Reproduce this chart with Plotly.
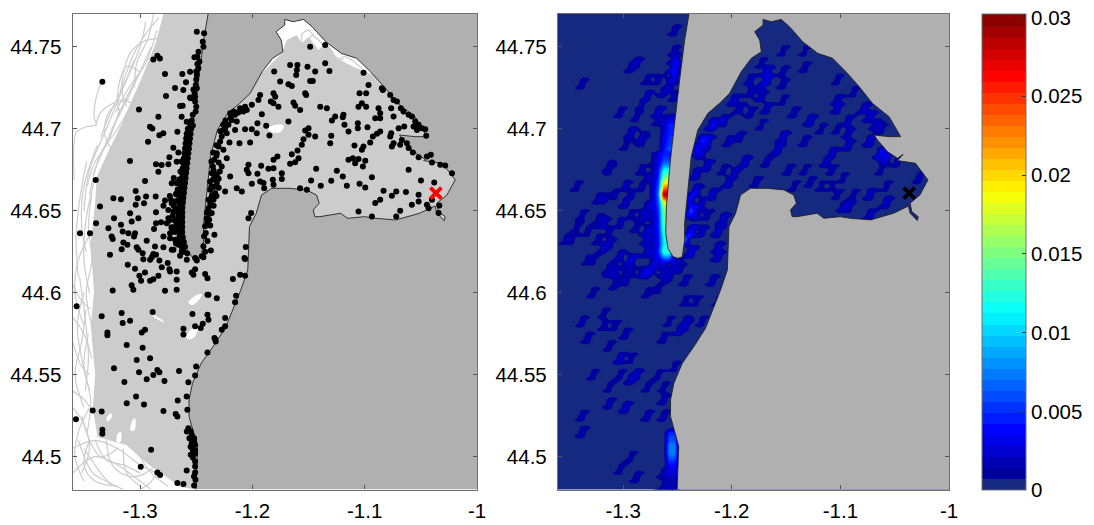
import numpy as np
import plotly.graph_objects as go

W, H = 1094, 525

def fx(p):
    return p / W

def fy(p):
    return 1 - p / H

# ---- coastline (lon, lat) from the spit's top edge round the bay to the south edge
coast = [(-1.2394,44.77),(-1.2434,44.7541),(-1.2480,44.7298),(-1.2526,44.7054),(-1.2565,44.681),(-1.2602,44.6525),
(-1.2608,44.6363),(-1.2587,44.6271),(-1.2541,44.622),(-1.2495,44.621),(-1.2455,44.622),(-1.2434,44.6322),(-1.2434,44.6424),
(-1.2413,44.6566),(-1.2389,44.6708),(-1.2373,44.683),(-1.2312,44.6993),(-1.2220,44.7094),(-1.2113,44.7155),(-1.2020,44.7216),
(-1.1913,44.7348),(-1.1820,44.743),(-1.1728,44.747),(-1.1743,44.7541),(-1.1789,44.7592),(-1.1712,44.7633),(-1.1712,44.7667),
(-1.1636,44.7653),(-1.1545,44.7667),(-1.1469,44.7623),(-1.1347,44.7531),(-1.1209,44.746),(-1.1072,44.743),(-1.0949,44.7348),
(-1.0827,44.7257),(-1.0705,44.7155),(-1.0552,44.7074),(-1.0460,44.6972),(-1.0445,44.6952),(-1.0552,44.6952),(-1.0690,44.6962),
(-1.0659,44.6932),(-1.0567,44.6861),(-1.0475,44.682),(-1.0423,44.6844),(-1.0475,44.6806),(-1.0308,44.6789),(-1.0194,44.6688),
(-1.0268,44.6596),(-1.0358,44.6546),(-1.0343,44.6495),(-1.0283,44.6464),(-1.0292,44.644),(-1.0358,44.6485),(-1.0373,44.6529),
(-1.0510,44.6485),(-1.0722,44.6444),(-1.0907,44.6454),(-1.0999,44.6464),(-1.1153,44.6454),(-1.1214,44.6485),(-1.1398,44.6464),
(-1.1444,44.6464),(-1.1459,44.6505),(-1.1405,44.6546),(-1.1429,44.6596),(-1.1520,44.6627),(-1.1673,44.6637),(-1.1827,44.6637),
(-1.1919,44.6596),(-1.1965,44.6485),(-1.2026,44.6403),(-1.2041,44.622),(-1.2041,44.6139),(-1.2103,44.6017),(-1.2165,44.5915),
(-1.2242,44.5783),(-1.2349,44.5672),(-1.2456,44.557),(-1.2533,44.5448),(-1.2564,44.5346),(-1.2564,44.5245),(-1.2527,44.5153),
(-1.2488,44.5062),(-1.2494,44.496),(-1.2503,44.48)]
land_corners = [(-1.0,44.48),(-1.0,44.77)]

# ---- area completely covered by the particle tracks
covered = [(-1.2793,44.77),(-1.2394,44.77),(-1.2,44.74),(-1.1902,44.7348),(-1.1813,44.7409),(-1.1739,44.746),(-1.1694,44.7541),
(-1.1605,44.7572),(-1.1561,44.7521),(-1.1501,44.7562),(-1.1412,44.748),(-1.1338,44.7521),(-1.1249,44.743),(-1.1101,44.7379),
(-1.0923,44.7328),(-1.08,44.73),(-1.01,44.68),(-1.01,44.64),(-1.03,44.63),(-1.2,44.62),(-1.2,44.5),(-1.25,44.48),(-1.264,44.4815),
(-1.273,44.486),(-1.294,44.496),(-1.312,44.507),(-1.338,44.512),(-1.342,44.53),(-1.340,44.55),(-1.344,44.58),(-1.341,44.60),(-1.344,44.63),(-1.340,44.655),
(-1.3385,44.6708),(-1.3277,44.687),(-1.3159,44.7035),(-1.3099,44.7135),(-1.2981,44.7318),(-1.2862,44.752)]

uncovered_spots = [
 [(-1.186,44.7005),(-1.179,44.7025),(-1.172,44.702),(-1.175,44.698),(-1.183,44.698)],
 [(-1.257,44.5940),(-1.250,44.5985),(-1.245,44.599),(-1.249,44.5945),(-1.254,44.5925)],
 [(-1.259,44.5730),(-1.255,44.5775),(-1.249,44.5785),(-1.251,44.5735),(-1.256,44.5715)],
 [(-1.291,44.5875),(-1.284,44.585),(-1.278,44.582),(-1.284,44.5835)],
 [(-1.3300,44.5235),(-1.3260,44.5265),(-1.3250,44.5245),(-1.3285,44.5215)],
 [(-1.3070,44.5220),(-1.3045,44.5235),(-1.3050,44.5160),(-1.3085,44.5160)],
 [(-1.3200,44.5140),(-1.3170,44.5150),(-1.3175,44.5090),(-1.3205,44.5090)],
]

# ---- single tracks outside the covered area
tracks = [
 [(-1.3342,44.7287),(-1.3372,44.7236),(-1.3401,44.7155),(-1.341,44.7074),(-1.3392,44.7023),(-1.3476,44.7013),(-1.3565,44.6982),(-1.3588,44.6911),(-1.3588,44.6687)],
 [(-1.2837,44.7551),(-1.2971,44.7531),(-1.309,44.746),(-1.3149,44.7338),(-1.3164,44.7236),(-1.3119,44.7135)],
 [(-1.3392,44.7023),(-1.3357,44.7094),(-1.3268,44.7145),(-1.3149,44.7175),(-1.303,44.7135)],
 [(-1.30,44.735),(-1.315,44.715),(-1.328,44.695),(-1.342,44.672)],
 [(-1.305,44.742),(-1.318,44.72),(-1.33,44.70),(-1.345,44.675),(-1.35,44.65)],
 [(-1.29,44.75),(-1.31,44.72),(-1.325,44.70)],
 [(-1.285,44.76),(-1.295,44.74),(-1.31,44.725),(-1.322,44.71)],
 [(-1.295,44.765),(-1.300,44.75),(-1.312,44.73),(-1.325,44.712),(-1.335,44.695)],
 [(-1.318,44.712),(-1.330,44.69),(-1.34,44.68),(-1.347,44.665)],
 [(-1.3,44.725),(-1.32,44.70),(-1.335,44.685),(-1.345,44.66)],
 [(-1.288,44.77),(-1.293,44.755),(-1.303,44.74),(-1.305,44.725)],
 [(-1.283,44.768),(-1.296,44.757),(-1.306,44.745),(-1.318,44.722)],
 [(-1.301,44.735),(-1.312,44.738),(-1.320,44.722),(-1.318,44.708)],
 [(-1.31,44.718),(-1.326,44.712),(-1.332,44.698),(-1.326,44.688)],
 [(-1.338,44.69),(-1.35,44.665),(-1.352,44.64),(-1.348,44.625)],
 [(-1.3476,44.68),(-1.353,44.66),(-1.357,44.635),(-1.355,44.61)],
 [(-1.34,44.67),(-1.348,44.645),(-1.35,44.62),(-1.345,44.60)],
 [(-1.343,44.66),(-1.346,44.64),(-1.343,44.62),(-1.348,44.60),(-1.343,44.58)],
 [(-1.345,44.635),(-1.355,44.62),(-1.358,44.60),(-1.35,44.58)],
 [(-1.35,44.60),(-1.356,44.58),(-1.352,44.56),(-1.345,44.54)],
 [(-1.348,44.59),(-1.352,44.57),(-1.358,44.55),(-1.35,44.53)],
 [(-1.354,44.61),(-1.349,44.585),(-1.346,44.56),(-1.349,44.54)],
 [(-1.346,44.575),(-1.35,44.555),(-1.344,44.535),(-1.347,44.515)],
 [(-1.36,44.57),(-1.352,44.555),(-1.345,44.55)],
 [(-1.36,44.585),(-1.35,44.575),(-1.343,44.56)],
 [(-1.36,44.605),(-1.352,44.595),(-1.344,44.59)],
 [(-1.36,44.54),(-1.35,44.535),(-1.34,44.525)],
 [(-1.36,44.53),(-1.35,44.52),(-1.345,44.505),(-1.352,44.49)],
 [(-1.345,44.53),(-1.355,44.515),(-1.358,44.50),(-1.35,44.485)],
 [(-1.352,44.525),(-1.345,44.51),(-1.335,44.50),(-1.32,44.505)],
 [(-1.36,44.505),(-1.34,44.51),(-1.32,44.505),(-1.30,44.495),(-1.285,44.49)],
 [(-1.345,44.51),(-1.35,44.495),(-1.34,44.485),(-1.32,44.482)],
 [(-1.33,44.51),(-1.325,44.495),(-1.31,44.488),(-1.295,44.49),(-1.28,44.50)],
 [(-1.315,44.505),(-1.312,44.49),(-1.30,44.482)],
 [(-1.36,44.49),(-1.34,44.50),(-1.32,44.495),(-1.30,44.485),(-1.29,44.48)],
 [(-1.35,44.505),(-1.335,44.49),(-1.325,44.482)],
 [(-1.30,44.50),(-1.29,44.49),(-1.275,44.482)],
 [(-1.28,44.498),(-1.29,44.485),(-1.30,44.48)],
 [(-1.34,44.51),(-1.33,44.498),(-1.315,44.495),(-1.30,44.49)],
 [(-1.355,44.51),(-1.342,44.49),(-1.33,44.485),(-1.315,44.48)],
 # wisps at the head of the bay
 [(-1.1560,44.752),(-1.1555,44.758),(-1.150,44.76),(-1.145,44.756)],
 [(-1.1500,44.752),(-1.147,44.757),(-1.141,44.754),(-1.136,44.75)],
 [(-1.1360,44.748),(-1.131,44.749),(-1.126,44.744),(-1.118,44.742)],
 [(-1.1250,44.741),(-1.118,44.744),(-1.108,44.740),(-1.100,44.735)],
]

# ---- final particle positions: bay interior
dots_bay = [(-1.1486,44.7501),(-1.1352,44.7511),(-1.1352,44.7399),(-1.1314,44.7353),(-1.1664,44.7389),(-1.1599,44.7389),(-1.1604,44.7359),
(-1.1610,44.7328),(-1.1509,44.7379),(-1.1441,44.7349),(-1.1806,44.7349),(-1.1753,44.7288),(-1.1486,44.7292),(-1.1462,44.7292),(-1.1679,44.7271),
(-1.1649,44.7261),(-1.1010,44.7342),(-1.0966,44.7267),(-1.1046,44.7217),(-1.0987,44.7217),(-1.0847,44.7247),(-1.0838,44.7237),(-1.0773,44.7206),
(-1.0743,44.7176),(-1.0713,44.7166),(-1.1931,44.7206),(-1.1946,44.7176),(-1.1812,44.7217),(-1.1797,44.7196),(-1.1530,44.7217),(-1.1521,44.7206),
(-1.1836,44.7166),(-1.1812,44.7156),(-1.1768,44.7135),(-1.1634,44.7160),(-1.1619,44.7140),(-1.1575,44.7115),(-1.1396,44.7135),(-1.1337,44.7125),
(-1.1025,44.7156),(-1.1055,44.7135),(-1.0987,44.7135),(-1.0877,44.7125),(-1.0862,44.7095),(-1.0764,44.7125),(-1.0678,44.7125),(-1.0654,44.7105),
(-1.0743,44.7075),(-1.0906,44.7064),(-1.0862,44.7064),(-1.0609,44.7085),(-1.0580,44.7075),(-1.0550,44.7044),(-1.0520,44.7024),(-1.0565,44.7014),
(-1.0491,44.7003),(-1.0461,44.6997),(-1.0535,44.6993),(-1.0648,44.7014),(-1.0698,44.7003),(-1.0452,44.6957),(-1.1189,44.7085),(-1.1195,44.7071),
(-1.1263,44.7075),(-1.1292,44.7050),(-1.1180,44.7024),(-1.1061,44.7034),(-1.1061,44.7003),(-1.1144,44.6983),(-1.0975,44.7010),(-1.0862,44.6983),
(-1.0891,44.6969),(-1.0927,44.6953),(-1.0764,44.6973),(-1.0773,44.6953),(-1.1500,44.7003),(-1.1530,44.6989),(-1.1500,44.6963),(-1.1441,44.6953),
(-1.1298,44.6957),(-1.1307,44.6912),(-1.1679,44.7044),(-1.1916,44.7089),(-1.1955,44.7034),(-1.1877,44.7018),(-1.1961,44.6973),(-1.1848,44.6959),
(-1.2005,44.6997),(-1.2065,44.6997),(-1.2154,44.6993),(-1.2020,44.6916),(-1.2115,44.6912),(-1.2204,44.6916),(-1.1545,44.6936),(-1.1560,44.6902),
(-1.1598,44.6867),(-1.1649,44.6845),(-1.1589,44.6821),(-1.1619,44.6796),(-1.1664,44.6786),(-1.1777,44.6831),(-1.1812,44.6811),(-1.1812,44.6760),
(-1.1857,44.6756),(-1.1922,44.6774),(-1.2035,44.6780),(-1.2050,44.6750),(-1.2035,44.6729),(-1.1955,44.6725),(-1.1738,44.6729),(-1.1738,44.6693),
(-1.1818,44.6689),(-1.1931,44.6679),(-1.2005,44.6664),(-1.1901,44.6669),(-1.1895,44.6638),(-1.1812,44.6658),(-1.1432,44.6756),(-1.1248,44.6744),
(-1.1195,44.6709),(-1.1477,44.6685),(-1.1391,44.6652),(-1.1298,44.6683),(-1.1159,44.6652),(-1.1046,44.6664),(-1.0995,44.6642),(-1.0936,44.6705),
(-1.1091,44.6898),(-1.1011,44.6892),(-1.1025,44.6872),(-1.0951,44.6916),(-1.1144,44.6811),(-1.1105,44.6821),(-1.1055,44.6815),(-1.1085,44.6790),
(-1.0995,44.6805),(-1.1016,44.6770),(-1.0758,44.6892),(-1.0743,44.6912),(-1.0684,44.6902),(-1.0669,44.6932),(-1.0624,44.6912),(-1.0609,44.6882),
(-1.0571,44.6855),(-1.0520,44.6827),(-1.0446,44.6831),(-1.0411,44.6841),(-1.0401,44.6794),(-1.0327,44.6780),(-1.0283,44.6776),(-1.0223,44.6729),
(-1.0609,44.6750),(-1.0499,44.6685),(-1.0381,44.6673),(-1.0832,44.6622),(-1.0719,44.6618),(-1.0758,44.6591),(-1.0633,44.6614),(-1.0520,44.6597),
(-1.0520,44.6557),(-1.0862,44.6567),(-1.0906,44.6547),(-1.0580,44.6536),(-1.0446,44.6536),(-1.0431,44.6516),(-1.0401,44.6567),(-1.0336,44.6532),
(-1.0342,44.6486),(-1.0684,44.6500),(-1.0719,44.6465),(-1.1055,44.6496),(-1.0936,44.6465),(-1.1575,44.6638),(-1.1515,44.6628),(-1.2011,44.6486),
(-1.2035,44.6455),(-1.2059,44.6279),(-1.2071,44.6212),(-1.2338,44.6354),(-1.2370,44.6258)]

# ---- bay west shore and east side of the spit
dots_shore = [(-1.2198,44.7095),(-1.2154,44.7085),(-1.2109,44.7125),(-1.2065,44.7135),(-1.2005,44.7146),(-1.2050,44.7115),(-1.2184,44.7054),
(-1.2139,44.7044),(-1.2213,44.7024),(-1.2243,44.7003),(-1.2228,44.6973),(-1.2273,44.6953),(-1.2287,44.6922),(-1.2302,44.6892),(-1.2258,44.6872),
(-1.2317,44.6851),(-1.2228,44.6821),(-1.2341,44.6811),(-1.2352,44.6770),(-1.2273,44.6770),(-1.2362,44.6729),(-1.2317,44.6719),(-1.2198,44.6709),
(-1.2377,44.6679),(-1.2317,44.6669),(-1.2243,44.6618),(-1.2139,44.6638),(-1.2094,44.6618),(-1.2377,44.6628),(-1.2332,44.6608),(-1.2391,44.6567),
(-1.2346,44.6567),(-1.2391,44.6516),(-1.2362,44.6486),(-1.2406,44.6455),(-1.2421,44.6405),(-1.2430,44.6344),(-1.2436,44.6283),(-1.2451,44.6222),
(-1.2510,44.6212),(-1.2337,44.6705),(-1.2345,44.6645),(-1.2360,44.6595),(-1.2375,44.6540),(-1.2385,44.6480),(-1.2402,44.6430),(-1.2375,44.6410),
(-1.2350,44.6690),(-1.2300,44.6795),(-1.2320,44.6900),(-1.2265,44.6990),(-1.2240,44.7050),(-1.2285,44.6985),(-1.2260,44.7025),(-1.2195,44.7065),
(-1.2165,44.7105),(-1.2125,44.7100),(-1.2080,44.7105),(-1.2350,44.6855),(-1.2365,44.6800),(-1.2320,44.6835),(-1.2345,44.6745),(-1.2290,44.6740),
(-1.2300,44.6640),(-1.2320,44.6590),(-1.2300,44.6695),(-1.2365,44.6650),(-1.2345,44.6530),(-1.2370,44.6575),(-1.2415,44.6365),(-1.2400,44.6315),
(-1.2420,44.6250),(-1.2385,44.6445),(-1.2405,44.6490)]

# ---- west side of the spit
dots_spit = [(-1.2495,44.7592),(-1.2430,44.7582),(-1.2442,44.7531),(-1.2436,44.7501),(-1.2516,44.7436),(-1.2472,44.7410),(-1.2481,44.7369),
(-1.2495,44.7328),(-1.2504,44.7267),(-1.2495,44.7247),(-1.2510,44.7196),(-1.2549,44.7186),(-1.2510,44.7166),(-1.2531,44.7085),(-1.2490,44.7440),
(-1.2500,44.7300),(-1.2525,44.7240),(-1.2540,44.7050),(-1.2555,44.7030),(-1.2530,44.7020),(-1.2480,44.7470),(-1.2490,44.7395),(-1.2500,44.7350),
(-1.2515,44.7215),(-1.2500,44.7135),(-1.2505,44.7105),
(-1.2575,44.700),(-1.2545,44.700),(-1.2585,44.697),(-1.2550,44.697),(-1.2590,44.694),(-1.2555,44.694),(-1.2595,44.691),(-1.2560,44.691),
(-1.2600,44.688),(-1.2565,44.688),(-1.2605,44.685),(-1.2570,44.685),(-1.2610,44.682),(-1.2575,44.682),(-1.2615,44.679),(-1.2580,44.679),
(-1.2620,44.676),(-1.2585,44.676),(-1.2625,44.673),(-1.2590,44.673),(-1.2630,44.670),(-1.2595,44.670),(-1.2635,44.667),(-1.2600,44.667),
(-1.2640,44.664),(-1.2605,44.664),(-1.2645,44.661),(-1.2610,44.661),(-1.2650,44.658),(-1.2615,44.658),(-1.2650,44.655),(-1.2620,44.655),
(-1.2655,44.652),(-1.2625,44.652),(-1.2655,44.649),(-1.2625,44.649),(-1.2660,44.646),(-1.2625,44.646),(-1.2660,44.643),(-1.2625,44.643),
(-1.2660,44.640),(-1.2625,44.640),(-1.2655,44.637),(-1.2625,44.637),(-1.2650,44.634),(-1.2620,44.634),(-1.2640,44.631),(-1.2610,44.631),
(-1.2630,44.628),(-1.2600,44.628),(-1.2610,44.625),(-1.2580,44.624),
(-1.2630,44.680),(-1.2640,44.674),(-1.2650,44.669),(-1.2665,44.663),(-1.2675,44.656),(-1.2680,44.650),(-1.2690,44.644),(-1.2690,44.637),(-1.2680,44.630),
(-1.2720,44.640),(-1.2710,44.6470),(-1.2740,44.6440),(-1.2700,44.6530),(-1.2735,44.6590),(-1.2700,44.6700)]

# ---- open water west of the spit
dots_west = [(-1.2882,44.7423),(-1.2846,44.7446),(-1.2823,44.7429),(-1.2778,44.7334),(-1.2624,44.7334),(-1.2555,44.7348),(-1.2591,44.7283),
(-1.2689,44.7248),(-1.2615,44.7236),(-1.2769,44.7200),(-1.2555,44.7191),(-1.2644,44.7139),(-1.2621,44.7141),(-1.3010,44.7118),(-1.2837,44.7074),
(-1.2630,44.7074),(-1.2585,44.7043),(-1.2912,44.7013),(-1.2891,44.7002),(-1.2668,44.6982),(-1.2793,44.6972),(-1.2828,44.6960),(-1.2929,44.6921),
(-1.2704,44.6885),(-1.2659,44.6856),(-1.2739,44.6826),(-1.2674,44.6799),(-1.3090,44.6803),(-1.2858,44.6783),(-1.2808,44.6779),(-1.2748,44.6783),
(-1.2837,44.6738),(-1.3336,44.7287),(-1.3395,44.6688),(-1.2956,44.6682),(-1.3039,44.6621),(-1.2947,44.6587),(-1.2861,44.6587),(-1.3021,44.6576),
(-1.3238,44.6576),(-1.3170,44.6570),(-1.2965,44.6546),(-1.3039,44.6536),(-1.3357,44.6526),(-1.2778,44.6562),(-1.2724,44.6566),(-1.2792,44.6530),
(-1.2718,44.6546),(-1.2748,44.6505),(-1.2703,44.6495),(-1.2858,44.6491),(-1.3089,44.6485),(-1.3232,44.6455),(-1.3015,44.6455),(-1.3075,44.6434),
(-1.2748,44.6455),(-1.2763,44.6424),(-1.2858,44.6424),(-1.2813,44.6430),(-1.3170,44.6414),(-1.3392,44.6424),(-1.3282,44.6394),(-1.2876,44.6388),
(-1.2718,44.6394),(-1.2733,44.6363),(-1.3155,44.6373),(-1.3104,44.6363),(-1.3045,44.6363),(-1.3054,44.6343),(-1.3535,44.6363),(-1.3446,44.6363),
(-1.3253,44.6343),(-1.3244,44.6327),(-1.2792,44.6343),(-1.2733,44.6333),(-1.2941,44.6317),(-1.3149,44.6306),(-1.3113,44.6292),(-1.3164,44.6266),
(-1.3030,44.6278),(-1.3015,44.6262),(-1.2867,44.6282),(-1.2792,44.6278),(-1.2718,44.6262),(-1.3268,44.6231),(-1.2977,44.6241),(-1.2882,44.6237),
(-1.2858,44.6231),(-1.2896,44.6217),(-1.2911,44.6201),(-1.2971,44.6205),(-1.2828,44.6197),(-1.2644,44.6225),(-1.2584,44.6201),(-1.2495,44.6197),
(-1.2436,44.6217),(-1.2754,44.6181),(-1.3110,44.6170),(-1.3045,44.6146),(-1.2807,44.6156),(-1.2739,44.6144),(-1.2733,44.6130),(-1.2674,44.6130),
(-1.2956,44.6124),(-1.3006,44.6103),(-1.2837,44.6103),(-1.2540,44.6124),(-1.2510,44.6144),(-1.2525,44.6110),(-1.2421,44.6114),(-1.2400,44.6089),
(-1.2991,44.6073),(-1.2911,44.6073),(-1.2882,44.6083),(-1.2674,44.6079),(-1.3075,44.6045),(-1.3060,44.6018),(-1.3244,44.6014),(-1.2778,44.6012),
(-1.2674,44.6018),(-1.2400,44.5988),(-1.2317,44.5967),(-1.3565,44.5917),(-1.3342,44.5856),(-1.3164,44.5876),(-1.2888,44.5882),(-1.2534,44.5870),
(-1.2400,44.5866),(-1.2391,44.5836),(-1.2243,44.5846),(-1.2243,44.5795),(-1.2273,44.5775),(-1.3155,44.5815),(-1.3089,44.5829),(-1.2442,44.5811),
(-1.2510,44.5795),(-1.2460,44.5785),(-1.2614,44.5781),(-1.2614,44.5746),(-1.2956,44.5775),(-1.2985,44.5758),(-1.3291,44.5758),(-1.3291,44.5740),
(-1.2338,44.5724),(-1.2674,44.6668),(-1.2718,44.6668),(-1.2674,44.6607),(-1.2644,44.6546),(-1.2659,44.6485),(-1.2674,44.6424),(-1.2644,44.6363),
(-1.2688,44.6323),(-1.2659,44.6292),(-1.2703,44.6262),(-1.2629,44.6251),(-1.2065,44.6206),(-1.2109,44.6109),(-1.2065,44.6103),(-1.2174,44.6084),
(-1.2145,44.5981),(-1.2154,44.5942),(-1.2391,44.5987),(-1.2680,44.6600),(-1.2690,44.6500),(-1.2700,44.6400),(-1.2660,44.6620),(-1.2680,44.6320)]

# ---- open-coast south
dots_south = [(-1.3119,44.5682),(-1.2977,44.5665),(-1.2911,44.5600),(-1.3030,44.5590),(-1.3232,44.5540),(-1.3009,44.5515),(-1.2846,44.5529),
(-1.2828,44.5515),(-1.2882,44.5499),(-1.2941,44.5473),(-1.2783,44.5462),(-1.2653,44.5523),(-1.3140,44.5456),(-1.2570,44.5454),(-1.2501,44.5550),
(-1.2510,44.5495),(-1.2400,44.5635),(-1.2332,44.5716),(-1.2326,44.5702),(-1.3036,44.5367),(-1.3119,44.5326),(-1.2965,44.5318),(-1.2665,44.5343),
(-1.2585,44.5367),(-1.2579,44.5286),(-1.2792,44.5278),(-1.2683,44.5261),(-1.2668,44.5245),(-1.3422,44.5282),(-1.3342,44.5276),(-1.3571,44.5229),
(-1.3336,44.5164),(-1.3336,44.5140),(-1.2902,44.5042),(-1.2994,44.4939),(-1.2846,44.4904),(-1.2822,44.4888),(-1.2585,44.4916),(-1.2668,44.4839),
(-1.2614,44.4833),(-1.2519,44.4825),(-1.2570,44.5174),(-1.2584,44.5154),(-1.2540,44.5133),(-1.2561,44.5113),(-1.2519,44.5113),(-1.2540,44.5083),
(-1.2510,44.5073),(-1.2531,44.5042),(-1.2510,44.5018),(-1.2549,44.5012),(-1.2510,44.4971),(-1.2510,44.4941),(-1.2510,44.4904),(-1.2507,44.4859),
(-1.2549,44.5154),(-1.2520,44.5095),(-1.2550,44.5060),(-1.2510,44.5040),(-1.2530,44.4995),(-1.2520,44.4880)]

release_point = (-1.0366, 44.6607)

# ---- concentration along the spit: rows of values by latitude
ridge_lats = [44.685,44.6825,44.68,44.6775,44.675,44.6725,44.67,44.6675,44.665,44.6625,44.66,44.6575,44.655,44.6525,44.65,44.6475,44.645,44.6425,44.64,44.6375,44.635,44.6325,44.63,44.6275,44.625,44.6225,44.62]
ridge_main = [.0045,.005,.006,.008,.011,.013,.015,.018,.021,.025,.029,.024,.018,.016,.015,.0145,.0145,.014,.0135,.013,.012,.0115,.011,.012,.0125,.009,.005]
ridge_west = [.0025,.0028,.003,.0035,.004,.0045,.005,.0055,.006,.0065,.007,.0065,.006,.0055,.005,.005,.0045,.0045,.0045,.0042,.004,.004,.004,.0042,.0045,.004,.003]
ridge_far = [.001,.0011,.0012,.0012,.001,.0012,.0015,.0018,.002,.002,.002,.0022,.0025,.0024,.0022,.0018,.0015,.0018,.002,.002,.002,.0018,.0015,.0018,.002,.002,.002]

south_lats = [44.5175,44.515,44.5125,44.51,44.5075,44.505,44.5025,44.50,44.4975,44.495,44.4925,44.49,44.4875,44.485,44.4825,44.48]
south_vals = [.0002,.004,.0055,.006,.007,.0075,.0075,.0065,.005,.004,.003,.0025,.002,.002,.0018,.0015]

north_lats = [44.7075,44.705,44.7025,44.70,44.6975,44.695,44.6925,44.69,44.6875]
north_main = [.002,.003,.0045,.0045,.0045,.005,.005,.0055,.006]
north_west = [.001,.0015,.002,.002,.0025,.003,.0035,.0035,.004]

# ---- concentration: patches (lon, lat, value)
patches = [
(-1.2875,44.7409,.0025),(-1.2925,44.7365,.002),(-1.3365,44.7263,.0018),(-1.2505,44.7592,.002),(-1.2515,44.7369,.0045),(-1.2515,44.7415,.003),
(-1.2525,44.7315,.004),(-1.2535,44.7465,.002),(-1.2775,44.7308,.0018),(-1.2675,44.7308,.0018),(-1.2775,44.7196,.0022),(-1.2825,44.7150,.0016),
(-1.2575,44.7257,.0025),(-1.2625,44.7215,.0022),(-1.2525,44.7205,.002),(-1.3025,44.7105,.0018),(-1.2855,44.7064,.0016),(-1.2675,44.7095,.0028),
(-1.2675,44.7045,.002),(-1.2905,44.6983,.0025),(-1.2835,44.695,.002),(-1.2955,44.6898,.0016),(-1.3125,44.6776,.0016),(-1.3415,44.6652,.0016),
(-1.3225,44.6577,.002),(-1.3175,44.6577,.002),(-1.3075,44.6607,.0018),(-1.2975,44.6658,.0022),(-1.2985,44.6546,.0025),(-1.2925,44.6595,.002),
(-1.2925,44.6485,.0018),(-1.3045,44.6435,.0022),(-1.3165,44.6414,.0025),(-1.3125,44.6370,.002),(-1.3245,44.6449,.0016),(-1.3365,44.6485,.0016),
(-1.3425,44.6404,.0016),(-1.3305,44.6364,.0018),(-1.3525,44.6327,.0016),(-1.3475,44.6327,.0016),(-1.3245,44.6333,.002),(-1.3145,44.6303,.0025),
(-1.3195,44.6272,.0025),(-1.3305,44.6201,.0016),(-1.3135,44.6161,.002),(-1.3075,44.612,.0025),(-1.2975,44.613,.002),(-1.2925,44.6211,.0035),
(-1.3025,44.6232,.0025),(-1.2805,44.612,.0022),(-1.2775,44.6323,.0032),(-1.2775,44.6384,.003),(-1.2875,44.6394,.002),(-1.2775,44.6242,.003),
(-1.2725,44.6185,.003),(-1.2625,44.6125,.0022),(-1.2625,44.6165,.003),(-1.2525,44.618,.0028),(-1.2475,44.6145,.002),(-1.2985,44.6902,.0016),
(-1.2825,44.6936,.002),(-1.2925,44.6973,.0016),(-1.3125,44.675,.0014),(-1.2825,44.6760,.002),(-1.2775,44.6700,.002),(-1.2825,44.6660,.002),
(-1.2775,44.6535,.0025),(-1.2825,44.6465,.002),(-1.2775,44.6465,.0025),
(-1.3275,44.5997,.0016),(-1.3195,44.5875,.0016),(-1.3365,44.5835,.0018),(-1.3305,44.5733,.002),(-1.3195,44.5794,.0016),(-1.3095,44.5794,.0016),
(-1.2995,44.5749,.002),(-1.3135,44.5668,.0016),(-1.3045,44.561,.0025),(-1.2905,44.5591,.0014),(-1.3255,44.5506,.0016),(-1.3025,44.5506,.0016),
(-1.2855,44.55,.0025),(-1.2925,44.547,.0025),(-1.3135,44.5425,.0016),(-1.2795,44.5425,.0016),(-1.2625,44.5425,.0016),(-1.2675,44.5506,.0016),
(-1.3105,44.5317,.002),(-1.2965,44.5303,.0025),(-1.2645,44.5341,.002),(-1.3395,44.5262,.0018),(-1.2795,44.5262,.002),(-1.2645,44.5256,.002),
(-1.3365,44.514,.002),(-1.2905,44.5012,.0014),(-1.3025,44.4931,.0014),(-1.2855,44.487,.002),(-1.2625,44.489,.002),(-1.2625,44.482,.0016),
(-1.2445,44.5956,.0016),(-1.2335,44.5956,.0014),(-1.2575,44.583,.0014),(-1.2445,44.5794,.0025),(-1.2495,44.5764,.0025),(-1.2405,44.5835,.002),
(-1.2625,44.5733,.002),(-1.2285,44.5825,.0016),(-1.2155,44.6078,.002),(-1.2105,44.622,.0028),(-1.2445,44.6078,.002),(-1.2575,44.6099,.0025),
(-1.2675,44.6017,.0016),(-1.2795,44.5997,.0016),(-1.2145,44.5946,.0014),(-1.2505,44.555,.0014),(-1.3055,44.6038,.0018),(-1.2995,44.6078,.002),
(-1.2905,44.6119,.002),(-1.2795,44.6119,.004),(-1.2725,44.6150,.0025),(-1.3125,44.6119,.0016),(-1.3295,44.62,.0016),
(-1.1665,44.7308,.0038),(-1.1665,44.7349,.0032),(-1.1525,44.7349,.0018),(-1.1345,44.7369,.0018),(-1.1545,44.747,.0014),(-1.1345,44.747,.0012),
(-1.1725,44.7389,.0014),(-1.1825,44.7308,.0022),(-1.1845,44.7217,.0022),(-1.1995,44.7176,.0028),(-1.1905,44.7135,.0025),(-1.1825,44.7105,.002),
(-1.1745,44.7196,.0025),(-1.1745,44.7247,.002),(-1.1505,44.7278,.002),(-1.1545,44.7186,.0014),(-1.1025,44.7288,.0016),(-1.0875,44.7227,.0016),
(-1.1045,44.7166,.0022),(-1.1045,44.7115,.0022),(-1.1655,44.7125,.0022),(-1.1405,44.7105,.002),(-1.1285,44.7044,.0028),(-1.1185,44.7003,.0014),
(-1.1045,44.6993,.0016),(-1.0925,44.7054,.0022),(-1.0915,44.6973,.0022),(-1.1705,44.7024,.0012),(-1.1905,44.6943,.002),(-1.2025,44.6932,.002),
(-1.2085,44.7044,.0028),(-1.2205,44.6932,.004),(-1.2175,44.7014,.0042),(-1.2265,44.6932,.0045),(-1.2325,44.6880,.004),(-1.2275,44.6850,.003),
(-1.1545,44.6953,.0028),(-1.1595,44.6872,.0028),(-1.1345,44.6922,.002),(-1.1095,44.6851,.0028),(-1.1145,44.679,.0028),(-1.0945,44.6912,.0025),
(-1.0745,44.6932,.003),(-1.0645,44.685,.0042),(-1.0575,44.683,.0035),(-1.0495,44.679,.002),(-1.0785,44.7135,.0028),(-1.0745,44.7074,.003),
(-1.0695,44.7024,.0022),(-1.0605,44.7003,.002),(-1.2085,44.675,.0018),(-1.1865,44.679,.0028),(-1.1965,44.673,.0028),(-1.2205,44.677,.0028),
(-1.2325,44.673,.003),(-1.2325,44.6628,.0032),(-1.2175,44.6608,.003),(-1.2045,44.6679,.0028),(-1.1775,44.6668,.002),(-1.1685,44.679,.002),
(-1.1485,44.674,.002),(-1.1305,44.674,.0014),(-1.1265,44.668,.0018),(-1.1055,44.676,.0018),(-1.0965,44.67,.0014),(-1.1415,44.6658,.0014),
(-1.1155,44.6658,.0012),(-1.1065,44.6658,.0012),(-1.1025,44.661,.0016),(-1.0855,44.661,.0014),(-1.0725,44.66,.0025),(-1.0915,44.6537,.0025),
(-1.0975,44.6527,.002),(-1.0725,44.648,.0025),(-1.0575,44.6547,.0028),(-1.0565,44.665,.0014),(-1.0625,44.674,.0014),(-1.0275,44.67,.002),
(-1.2355,44.6567,.0045),(-1.2375,44.6506,.006),(-1.2085,44.6445,.003),(-1.2115,44.6364,.003),(-1.2425,44.6323,.0065),(-1.2395,44.638,.004),
(-1.2325,44.6465,.0025),(-1.2295,44.6364,.0025),(-1.2385,44.626,.0035),(-1.2105,44.6275,.0025),(-1.2265,44.6540,.0025),(-1.2225,44.6470,.002),
]

# ---- axes labels
lon_ticks = [-1.3,-1.2,-1.1,-1.0]
lon_labels = ["-1.3","-1.2","-1.1","-1"]
lat_ticks = [44.5,44.55,44.6,44.65,44.7,44.75]
lat_labels = ["44.5","44.55","44.6","44.65","44.7","44.75"]
cbar_ticks = [0,0.005,0.01,0.015,0.02,0.025,0.03]
cbar_labels = ["0","0.005","0.01","0.015","0.02","0.025","0.03"]
Z_TOP = 0.0302

# ---- build the grid
grid_lon = [round(-1.3625 + 0.005*i, 4) for i in range(74)]
grid_lat = [round(44.475 + 0.0025*j, 4) for j in range(121)]
z = np.zeros((len(grid_lat), len(grid_lon)))

def put(lon, lat, val):
    i = int(round((lon - grid_lon[0]) / 0.005))
    j = int(round((lat - grid_lat[0]) / 0.0025))
    if 0 <= i < len(grid_lon) and 0 <= j < len(grid_lat):
        z[j, i] = max(z[j, i], val)

for lat, a, b, c in zip(ridge_lats, ridge_main, ridge_west, ridge_far):
    put(-1.2625, lat, a)
    put(-1.2575, lat, a)
    put(-1.2675, lat, b)
    put(-1.2725, lat, c)
for lat, v in zip(south_lats, south_vals):
    put(-1.2575, lat, v)
    put(-1.2525, lat, v)
for lat, a, b in zip(north_lats, north_main, north_west):
    put(-1.2575, lat, a)
    put(-1.2525, lat, a)
    put(-1.2625, lat, b)
for lon, lat, val in patches:            # the patches lean SW-NE and are about two rows thick
    rim = max(val * 0.65, 0.0011)
    put(lon, lat, val)
    put(lon + 0.005, lat + 0.0025, rim)
    put(lon - 0.005, lat - 0.0025, rim)
    put(lon, lat + 0.0025, rim)
    put(lon, lat - 0.0025, rim)

F = 0.0007 / Z_TOP
jet = [[0,'#14297f'],[F,'#14297f'],[F+0.0001,'#00008f'],[0.125,'#0000ff'],[0.375,'#00ffff'],
       [0.625,'#ffff00'],[0.875,'#ff0000'],[1,'#800000']]

def unzip(pts):
    return [p[0] for p in pts], [p[1] for p in pts]

LAND = '#b0b0b0'
TRACK = '#cccccc'
coast_x, coast_y = unzip(coast)
land_x, land_y = unzip(coast + land_corners)

def add_land(fig, xa, ya):
    fig.add_trace(go.Scatter(x=land_x, y=land_y, mode='lines', fill='toself', fillcolor=LAND,
                             line=dict(width=0, color=LAND), xaxis=xa, yaxis=ya, showlegend=False, hoverinfo='skip'))
    fig.add_trace(go.Scatter(x=coast_x, y=coast_y, mode='lines', line=dict(width=0.9, color='#222222'),
                             xaxis=xa, yaxis=ya, showlegend=False, hoverinfo='skip'))

fig = go.Figure()

# left panel
cx, cy = unzip(covered + covered[:1])
fig.add_trace(go.Scatter(x=cx, y=cy, mode='lines', fill='toself', fillcolor=TRACK, line=dict(width=0),
                         xaxis='x', yaxis='y', showlegend=False, hoverinfo='skip'))
for spot in uncovered_spots:
    sx, sy = unzip(spot + spot[:1])
    fig.add_trace(go.Scatter(x=sx, y=sy, mode='lines', fill='toself', fillcolor='white', line=dict(width=0, shape='spline'),
                             xaxis='x', yaxis='y', showlegend=False, hoverinfo='skip'))
for t in tracks:
    tx, ty = unzip(t)
    fig.add_trace(go.Scatter(x=tx, y=ty, mode='lines', line=dict(width=1.2, color=TRACK, shape='spline'),
                             xaxis='x', yaxis='y', showlegend=False, hoverinfo='skip'))
add_land(fig, 'x', 'y')
dx, dy = unzip(dots_bay + dots_shore + dots_spit + dots_west + dots_south)
fig.add_trace(go.Scatter(x=dx, y=dy, mode='markers', marker=dict(size=6, color='black'),
                         xaxis='x', yaxis='y', showlegend=False, hoverinfo='skip'))
fig.add_trace(go.Scatter(x=[release_point[0]], y=[release_point[1]], mode='markers',
                         marker=dict(symbol='x-thin', size=11, line=dict(width=3.8, color='#ff0000')),
                         xaxis='x', yaxis='y', showlegend=False, hoverinfo='skip'))

# right panel
fig.add_trace(go.Contour(x=grid_lon, y=grid_lat, z=z.tolist(), xaxis='x2', yaxis='y2', colorscale=jet, zmin=0, zmax=Z_TOP,
                         autocontour=False, contours=dict(start=0, end=Z_TOP, size=0.0007, coloring='fill', showlines=False),
                         line=dict(width=0, smoothing=1.0), hoverinfo='skip',
                         colorbar=dict(x=fx(981.7), xanchor='left', y=fy(490.3), yanchor='bottom', lenmode='pixels', len=476.3,
                                       thicknessmode='pixels', thickness=44, xpad=0, ypad=0, outlinecolor='#707070', outlinewidth=1,
                                       tickmode='array', tickvals=cbar_ticks, ticktext=cbar_labels, ticks='inside', ticklen=4,
                                       ticklabeloverflow='allow',
                                       tickcolor='#333333', tickfont=dict(family='Liberation Sans', size=20.5, color='black'))))
add_land(fig, 'x2', 'y2')
fig.add_trace(go.Scatter(x=[release_point[0]], y=[release_point[1]], mode='markers',
                         marker=dict(symbol='x-thin', size=11, line=dict(width=3.8, color='black')),
                         xaxis='x2', yaxis='y2', showlegend=False, hoverinfo='skip'))

axis_style = dict(showgrid=False, zeroline=False, showline=True, linecolor='#707070', linewidth=1.3, mirror='ticks',
                  ticks='inside', ticklen=4, tickcolor='#555555', tickfont=dict(family='Liberation Sans', size=20.5, color='black'))
xstyle = dict(axis_style, range=[-1.36,-1.0], tickmode='array', tickvals=lon_ticks, ticktext=lon_labels, ticklabelstandoff=3)
ystyle = dict(axis_style, range=[44.48,44.77], tickmode='array', tickvals=lat_ticks, ticktext=lat_labels, ticklabelstandoff=6)

fig.update_layout(
    width=W, height=H, autosize=False, paper_bgcolor='white', plot_bgcolor='white', showlegend=False,
    margin=dict(l=0, r=0, t=0, b=0, pad=0, autoexpand=False),
    xaxis=dict(xstyle, domain=[fx(72.7), fx(477)], anchor='y'),
    yaxis=dict(ystyle, domain=[fy(489.5), fy(14)], anchor='x'),
    xaxis2=dict(xstyle, domain=[fx(558), fx(949)], anchor='y2'),
    yaxis2=dict(ystyle, domain=[fy(489.5), fy(14)], anchor='x2'),
)
fig.write_html("out.html", config={'displayModeBar': False},
               post_script="document.body.style.margin='0';document.body.style.overflow='hidden';")
